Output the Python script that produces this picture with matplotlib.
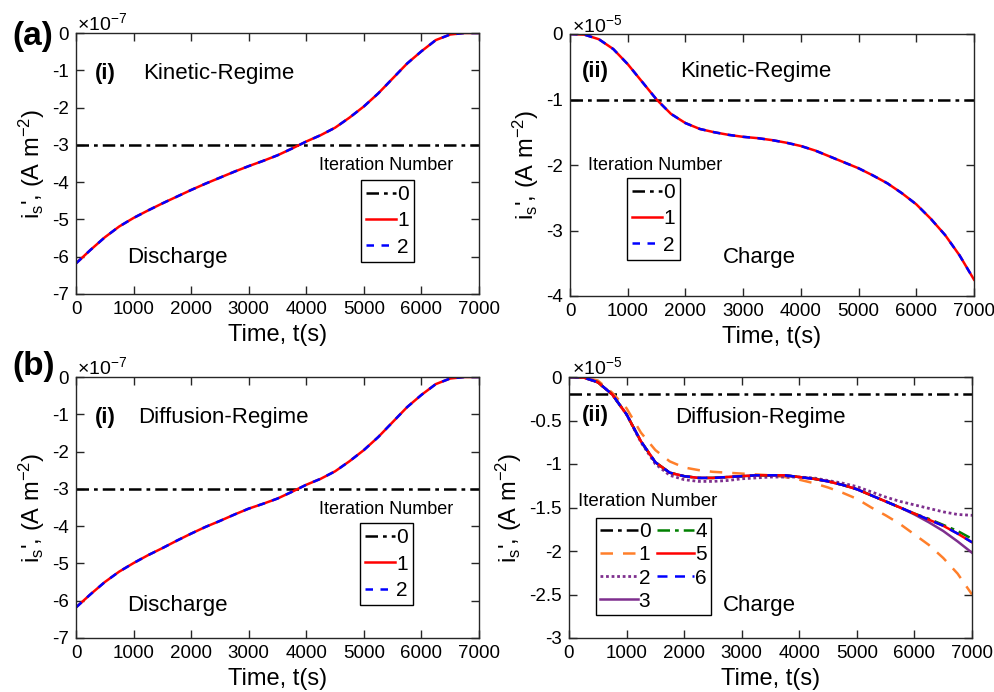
import numpy as np
import matplotlib
matplotlib.use('Agg')
import matplotlib.pyplot as plt
from matplotlib.ticker import FuncFormatter

plt.rcParams['font.family'] = ['Liberation Sans', 'DejaVu Sans']
plt.rcParams['mathtext.fontset'] = 'custom'
plt.rcParams['mathtext.rm'] = 'Liberation Sans'
plt.rcParams['mathtext.it'] = 'Liberation Sans:italic'
plt.rcParams['mathtext.bf'] = 'Liberation Sans:bold'
plt.rcParams['axes.unicode_minus'] = False

# time axis (s), every 250 s
t = np.arange(0, 7001, 250)

# (a)(i) kinetic regime, discharge (x1e-7 A m^-2)
kin_dis = [-6.18, -5.82, -5.48, -5.19, -4.96, -4.76, -4.57, -4.39, -4.21, -4.04,
           -3.88, -3.72, -3.57, -3.43, -3.28, -3.10, -2.91, -2.74, -2.54, -2.27,
           -1.97, -1.62, -1.22, -0.82, -0.49, -0.19, -0.04, 0.0, 0.0]
kin_dis_lim = -3.0

# (a)(ii) kinetic regime, charge (x1e-5 A m^-2)
kin_chg = [0.0, -0.01, -0.08, -0.23, -0.46, -0.73, -1.00, -1.22, -1.36, -1.45,
           -1.50, -1.54, -1.57, -1.59, -1.62, -1.66, -1.71, -1.78, -1.87, -1.96,
           -2.05, -2.16, -2.28, -2.43, -2.60, -2.82, -3.07, -3.38, -3.75]
kin_chg_lim = -1.0

# (b)(i) diffusion regime, discharge (x1e-7 A m^-2)
dif_dis = [-6.18, -5.83, -5.50, -5.22, -4.99, -4.78, -4.59, -4.39, -4.20, -4.02,
           -3.86, -3.69, -3.53, -3.40, -3.26, -3.08, -2.89, -2.73, -2.53, -2.26,
           -1.96, -1.61, -1.21, -0.81, -0.48, -0.19, -0.04, 0.0, 0.0]
dif_dis_lim = -3.0

# (b)(ii) diffusion regime, charge (x1e-5 A m^-2), iterations 1..6
dif_chg_1 = [0.0, -0.005, -0.04, -0.18, -0.36, -0.64, -0.84, -0.97, -1.04, -1.07,
             -1.09, -1.10, -1.11, -1.12, -1.13, -1.15, -1.18, -1.22, -1.27, -1.33,
             -1.40, -1.50, -1.59, -1.69, -1.81, -1.93, -2.08, -2.26, -2.50]
dif_chg_2 = [0.0, -0.005, -0.06, -0.20, -0.43, -0.75, -1.00, -1.13, -1.18, -1.20,
             -1.20, -1.19, -1.17, -1.16, -1.15, -1.15, -1.15, -1.16, -1.19, -1.22,
             -1.26, -1.32, -1.38, -1.43, -1.47, -1.51, -1.55, -1.58, -1.59]
dif_chg_3 = [0.0, -0.005, -0.06, -0.20, -0.43, -0.74, -0.98, -1.10, -1.14, -1.16,
             -1.16, -1.15, -1.14, -1.13, -1.13, -1.13, -1.15, -1.17, -1.20, -1.24,
             -1.29, -1.36, -1.43, -1.50, -1.58, -1.67, -1.77, -1.89, -2.02]
dif_chg_4 = [0.0, -0.005, -0.06, -0.20, -0.43, -0.74, -0.98, -1.10, -1.14, -1.16,
             -1.16, -1.15, -1.14, -1.13, -1.13, -1.13, -1.15, -1.17, -1.20, -1.24,
             -1.29, -1.36, -1.43, -1.50, -1.57, -1.63, -1.70, -1.77, -1.86]
dif_chg_5 = [0.0, -0.005, -0.06, -0.20, -0.43, -0.74, -0.98, -1.10, -1.14, -1.16,
             -1.16, -1.15, -1.14, -1.13, -1.13, -1.13, -1.15, -1.17, -1.20, -1.24,
             -1.29, -1.36, -1.43, -1.50, -1.57, -1.64, -1.71, -1.80, -1.90]
dif_chg_6 = dif_chg_5
dif_chg_lim = -0.2

W, H = 995, 692
fig = plt.figure(figsize=(W / 100, H / 100), dpi=100)
fmt = FuncFormatter(lambda v, p: '%g' % v)
tc = '#262626'
dashdot = (0, (5, 2, 1.5, 2))


def px_axes(l, r, top, bot):
    ax = fig.add_axes([l / W, 1 - bot / H, (r - l) / W, (bot - top) / H])
    ax.tick_params(direction='in', top=True, right=True, length=6, width=1,
                   labelsize=13.5, colors=tc, labelcolor='black', pad=5)
    for s in ax.spines.values():
        s.set_color(tc)
        s.set_linewidth(1.0)
    ax.set_xlim(0, 7000)
    ax.set_xticks(range(0, 7001, 1000))
    ax.yaxis.set_major_formatter(fmt)
    ax.set_xlabel('Time, t(s)', fontsize=17, labelpad=4)
    ax.set_ylabel(r"$\mathregular{i_s}$', (A m$^{-2}$)", fontsize=17, labelpad=4)
    return ax


def ftext(x, y, s, **kw):
    fig.text(x / W, 1 - y / H, s, **kw)


def iter_label(x, y):
    ftext(x, y, 'Iteration Number', fontsize=13, ha='center', va='center')


def panel_3(ax, y, lim, lx, ly):
    l0, = ax.plot([0, 7000], [lim, lim], color='black', ls=dashdot, lw=1.8)
    l1, = ax.plot(t, y, color='red', lw=1.8)
    l2, = ax.plot(t, y, color='blue', lw=1.8, ls=(0, (3, 3)))
    leg = ax.legend([l0, l1, l2], ['0', '1', '2'], loc='upper left',
                    bbox_to_anchor=(lx / W, 1 - ly / H), bbox_transform=fig.transFigure,
                    borderaxespad=0, fontsize=15, handlelength=1.45, handletextpad=0.05,
                    labelspacing=0.35, borderpad=0.25, fancybox=False, framealpha=1,
                    edgecolor='black')
    leg.get_frame().set_linewidth(1.0)


# (a)(i)
ax1 = px_axes(76, 479, 33, 294)
ax1.set_ylim(-7, 0)
ax1.set_yticks(range(-7, 1))
panel_3(ax1, kin_dis, kin_dis_lim, 361, 180)
iter_label(386, 166)

# (a)(ii)
ax2 = px_axes(570, 974, 34, 296)
ax2.set_ylim(-4, 0)
ax2.set_yticks(range(-4, 1))
panel_3(ax2, kin_chg, kin_chg_lim, 627, 178)
iter_label(655, 165)

# (b)(i)
ax3 = px_axes(76, 479, 377, 638)
ax3.set_ylim(-7, 0)
ax3.set_yticks(range(-7, 1))
panel_3(ax3, dif_dis, dif_dis_lim, 360, 523)
iter_label(386, 509)

# (b)(ii)
ax4 = px_axes(569, 972, 377, 638)
ax4.set_ylim(-3, 0)
ax4.set_yticks(np.arange(-3, 0.01, 0.5))
m0, = ax4.plot([0, 7000], [dif_chg_lim, dif_chg_lim], color='black', ls=dashdot, lw=1.8)
m1, = ax4.plot(t, dif_chg_1, color='#FF7F2A', lw=1.8, ls=(0, (5, 4)))
m2, = ax4.plot(t, dif_chg_2, color='#7E2F8E', lw=2.0, ls=(0, (1, 1)))
m3, = ax4.plot(t, dif_chg_3, color='#7E2F8E', lw=1.8)
m4, = ax4.plot(t, dif_chg_4, color='#008000', lw=1.8, ls=dashdot)
m5, = ax4.plot(t, dif_chg_5, color='red', lw=1.8)
m6, = ax4.plot(t, dif_chg_6, color='blue', lw=1.8, ls=(0, (4, 3)))
leg = ax4.legend([m0, m1, m2, m3, m4, m5, m6], ['0', '1', '2', '3', '4', '5', '6'],
                 ncol=2, loc='upper left', bbox_to_anchor=(596 / W, 1 - 518 / H),
                 bbox_transform=fig.transFigure, borderaxespad=0, fontsize=15,
                 handlelength=1.8, handletextpad=0.05, labelspacing=0.2, borderpad=0.2,
                 columnspacing=0.3, fancybox=False, framealpha=1, edgecolor='black')
leg.get_frame().set_linewidth(1.0)
ftext(578, 502, 'Iteration Number', fontsize=13.5, ha='left', va='center')

# panel annotations
for (x, y, s) in [(95, 73, '(i)'), (582, 72, '(ii)'), (95, 417, '(i)'), (582, 415, '(ii)')]:
    ftext(x, y, s, fontsize=16, fontweight='bold', ha='left', va='center')
ftext(143, 73, 'Kinetic-Regime', fontsize=16, va='center')
ftext(680, 72, 'Kinetic-Regime', fontsize=16, va='center')
ftext(138, 417, 'Diffusion-Regime', fontsize=16, va='center')
ftext(675, 417, 'Diffusion-Regime', fontsize=16, va='center')
ftext(127, 257, 'Discharge', fontsize=16, va='center')
ftext(723, 257, 'Charge', fontsize=16, va='center')
ftext(127, 605, 'Discharge', fontsize=16, va='center')
ftext(723, 605, 'Charge', fontsize=16, va='center')

# exponent labels
ftext(77, 23, r'$\times\mathregular{10^{-7}}$', fontsize=14, va='center')
ftext(572, 25, r'$\times\mathregular{10^{-5}}$', fontsize=14, va='center')
ftext(77, 367, r'$\times\mathregular{10^{-7}}$', fontsize=14, va='center')
ftext(572, 367, r'$\times\mathregular{10^{-5}}$', fontsize=14, va='center')

# figure labels
ftext(12, 37, '(a)', fontsize=24, fontweight='bold', va='center')
ftext(12, 366, '(b)', fontsize=24, fontweight='bold', va='center')

fig.savefig('out.png', dpi=100)
